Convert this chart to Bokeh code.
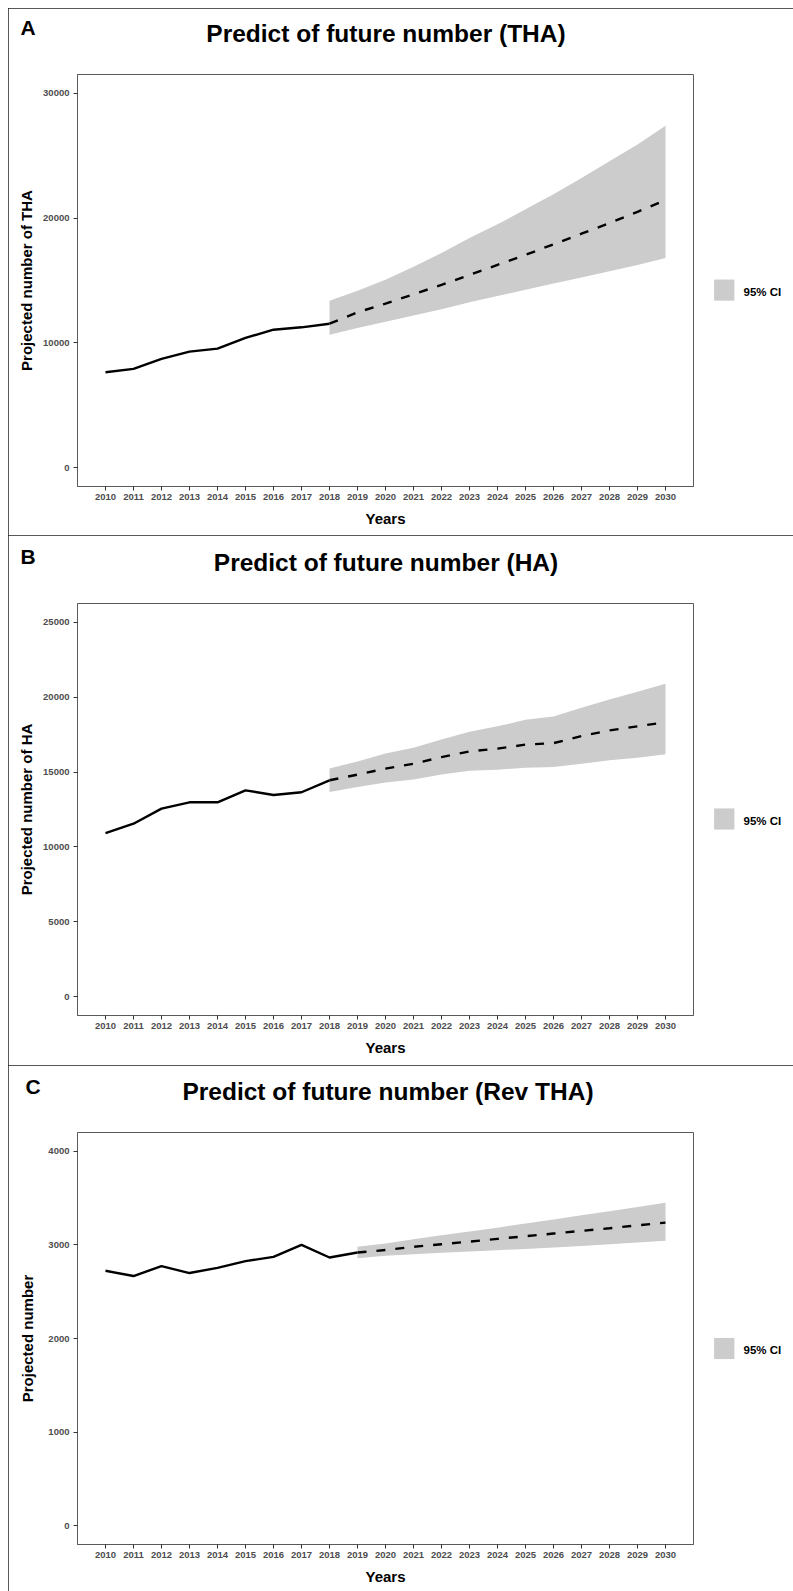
from bokeh.plotting import figure
from bokeh.models import Label, FixedTicker, Range1d
from bokeh.layouts import column
from bokeh.embed import file_html
from bokeh.resources import INLINE

# ---------------- data ----------------
all_years = list(range(2010, 2031))
legend_label = "95% CI"

# Panel A : THA
tha_obs_years = list(range(2010, 2019))
tha_obs = [7650, 7920, 8720, 9300, 9540, 10400, 11060, 11250, 11540]
tha_fc_years = list(range(2018, 2031))
tha_fc_mean = [11540, 12450, 13150, 13900, 14650, 15450, 16250, 17050, 17900, 18750, 19600, 20500, 21450]
tha_fc_hi = [13380, 14180, 15060, 16100, 17200, 18400, 19500, 20700, 21900, 23200, 24550, 25900, 27400]
tha_fc_lo = [10660, 11200, 11700, 12200, 12700, 13250, 13750, 14250, 14750, 15250, 15750, 16250, 16800]
tha_yticks = [0, 10000, 20000, 30000]

# Panel B : HA
ha_obs_years = list(range(2010, 2019))
ha_obs = [10930, 11550, 12560, 12980, 12980, 13780, 13470, 13650, 14450]
ha_fc_years = list(range(2018, 2031))
ha_fc_mean = [14450, 14830, 15230, 15550, 16000, 16380, 16560, 16830, 16930, 17400, 17780, 18050, 18330]
ha_fc_hi = [15230, 15710, 16230, 16630, 17180, 17690, 18050, 18490, 18710, 19290, 19850, 20360, 20890]
ha_fc_lo = [13670, 14000, 14310, 14510, 14830, 15090, 15160, 15290, 15330, 15560, 15780, 15960, 16180]
ha_yticks = [0, 5000, 10000, 15000, 20000, 25000]

# Panel C : Rev THA
rev_obs_years = list(range(2010, 2020))
rev_obs = [2723, 2667, 2773, 2699, 2755, 2826, 2872, 3000, 2865, 2918]
rev_fc_years = list(range(2019, 2031))
rev_fc_mean = [2918, 2945, 2979, 3007, 3035, 3064, 3092, 3121, 3149, 3177, 3209, 3238]
rev_fc_hi = [2979, 3014, 3060, 3103, 3142, 3184, 3227, 3270, 3316, 3358, 3404, 3450]
rev_fc_lo = [2858, 2883, 2901, 2915, 2929, 2943, 2957, 2972, 2989, 3007, 3025, 3043]
rev_yticks = [0, 1000, 2000, 3000, 4000]

FONT = "Liberation Sans"
W = 785
H_TITLE = 28      # title row height in the "above" panel
LIFT = 10         # empirical upward correction for the above-panel labels
LEG_TEXT_W = 38   # width of the legend text row in the "right" panel
BAND = "#cccccc"


def make_panel(letter, title, ylabel, obs_x, obs_y, fc_x, fc_mean, fc_lo, fc_hi,
               yticks, height, mb, title_base, letter_base, ylabel_standoff, key_y):
    ymax = yticks[-1]
    left, right, top, bottom = mb
    p = figure(width=W, height=height, output_backend="svg", toolbar_location=None,
               title_location=None,
               x_range=Range1d(2009, 2031), y_range=Range1d(-0.05 * ymax, 1.05 * ymax),
               min_border_left=left, min_border_right=right,
               min_border_top=top, min_border_bottom=bottom,
               background_fill_color="white", border_fill_color="white")
    p.styles = {"outline": "1px solid #222", "outline-offset": "-1px"}
    p.xgrid.visible = False
    p.ygrid.visible = False
    p.outline_line_color = "#5a5a5a"
    p.outline_line_width = 1

    for ax in (p.xaxis[0], p.yaxis[0]):
        ax.axis_line_color = "#5a5a5a"
        ax.major_tick_line_color = "#333333"
        ax.major_tick_out = 4
        ax.major_tick_in = 0
        ax.minor_tick_line_color = None
        ax.major_label_text_font = FONT
        ax.major_label_text_font_style = "bold"
        ax.major_label_text_font_size = "9.5px"
        ax.major_label_text_color = "#4d4d4d"
        ax.axis_label_text_font = FONT
        ax.axis_label_text_font_style = "bold"
        ax.axis_label_text_font_size = "15px"
        ax.axis_label_text_color = "black"
    p.xaxis.ticker = FixedTicker(ticks=all_years)
    p.xaxis.major_label_standoff = 3
    p.xaxis.axis_label = "Years"
    p.xaxis.axis_label_standoff = 7
    p.yaxis.ticker = FixedTicker(ticks=yticks)
    p.yaxis.major_label_standoff = 4
    p.yaxis.axis_label = ylabel
    p.yaxis.axis_label_standoff = ylabel_standoff

    p.varea(x=fc_x, y1=fc_lo, y2=fc_hi, fill_color=BAND, fill_alpha=1)
    p.line(obs_x, obs_y, line_color="black", line_width=2.4)
    p.line(fc_x, fc_mean, line_color="black", line_width=2.4, line_dash="9 10")

    # legend (key + text) in the right-hand side panel
    p.add_layout(Label(x=50, y=key_y - 1.5, x_units="screen", y_units="screen",
                       text=legend_label, text_font=FONT, text_font_style="bold",
                       text_font_size="11.5px", text_align="left",
                       text_baseline="middle", text_color="black"), "right")
    p.add_layout(Label(x=30.75 - LEG_TEXT_W, y=key_y, x_units="screen", y_units="screen",
                       text=" ", text_font=FONT, text_font_size="1px",
                       text_align="center", text_baseline="middle",
                       background_fill_color=BAND, padding=10), "right")

    frame_w = W - left - right
    p.add_layout(Label(x=frame_w / 2, y=top - title_base + LIFT, x_units="screen", y_units="screen",
                       text=title, text_font=FONT, text_font_style="bold",
                       text_font_size="24.5px", text_align="center",
                       text_baseline="alphabetic", text_color="black"), "above")
    p.add_layout(Label(x=12 - left, y=top - H_TITLE - letter_base + LIFT,
                       x_units="screen", y_units="screen",
                       text=letter, text_font=FONT, text_font_style="bold",
                       text_font_size="21px", text_align="left",
                       text_baseline="alphabetic", text_color="black"), "above")
    return p


pa = make_panel("A", "Predict of future number (THA)", "Projected number of THA",
                tha_obs_years, tha_obs, tha_fc_years, tha_fc_mean, tha_fc_lo, tha_fc_hi,
                tha_yticks, 527, (69, 99, 66, 49), 35, 28, 5, 196.4)
pb = make_panel("B", "Predict of future number (HA)", "Projected number of HA",
                ha_obs_years, ha_obs, ha_fc_years, ha_fc_mean, ha_fc_lo, ha_fc_hi,
                ha_yticks, 530, (69, 99, 68, 50), 37.4, 30, 5, 196.5)
pc = make_panel("C", "Predict of future number (Rev THA)", "Projected number",
                rev_obs_years, rev_obs, rev_fc_years, rev_fc_mean, rev_fc_lo, rev_fc_hi,
                rev_yticks, 526, (64, 100, 67, 47), 36.3, 29.5, 9, 196)

layout = column(pa, pb, pc, spacing=0, margin=(8, 0, 0, 8))
open("out.html", "w").write(file_html(layout, INLINE))
